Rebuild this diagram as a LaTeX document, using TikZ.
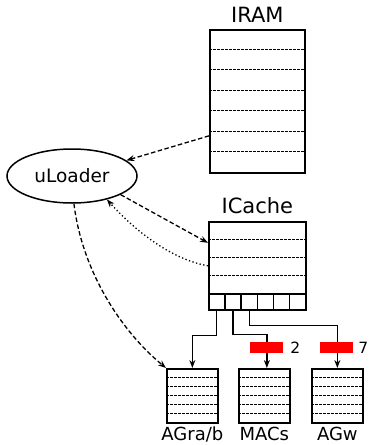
\documentclass[tikz,border=0pt]{standalone}
\usepackage{fontspec}
\setmainfont{DejaVu Sans}
\usetikzlibrary{arrows.meta, positioning, shapes.geometric}

\begin{document}
\begin{tikzpicture}[
    x=1pt, y=-1pt,
    font=\fontsize{18.5}{20}\selectfont,
    memory/.style={draw, line width=1.7pt, inner sep=0pt, anchor=north west},
    slot/.style={line width=1pt, dash pattern=on 2.6pt off 1.4pt},
    port/.style={draw, line width=1.5pt, inner sep=0pt, minimum width=16.17pt,
                 minimum height=16pt, anchor=north west},
    title/.style={font=\fontsize{21}{22}\selectfont, inner sep=0pt},
    caption/.style={font=\fontsize{18}{19}\selectfont, inner sep=0pt},
    flow/.style={line width=1.3pt, -{Stealth[length=8pt, width=6pt]}},
    fetch/.style={flow, dash pattern=on 4.5pt off 2.5pt},
    hint/.style={flow, dash pattern=on 1.3pt off 2.4pt},
    stall/.style={fill=red, inner sep=0pt, minimum width=33pt, minimum height=11pt},
    count/.style={font=\fontsize{15.5}{16}\selectfont, inner sep=0pt},
  ]

  \useasboundingbox (0,0) rectangle (368,445);

  % ---- IRAM -------------------------------------------------------------
  \node[memory, minimum width=95pt, minimum height=143pt] (iram) at (209,29) {};
  \foreach \i in {1,...,6}
    \draw[slot] (iram.north west) ++(0,\i*20.43) -- ++(95,0);
  \node[title, above=6pt of iram] (iram-label) {IRAM};

  % ---- the loader -------------------------------------------------------
  \node[draw, ellipse, line width=1.5pt, inner sep=0pt, minimum width=130pt,
        minimum height=54pt] (loader) at (72,176) {uLoader};

  % ---- ICache with its ports --------------------------------------------
  \node[memory, minimum width=97pt, minimum height=72pt] (icache) at (208,221) {};
  \foreach \i in {1,2,3}
    \draw[slot] (icache.north west) ++(0,\i*18.2) -- ++(97,0);
  \foreach \i in {1,...,6}
    \node[port] (port\i) at ({208+(\i-1)*16.17},293) {};
  \node[title, above=7pt of icache] (icache-label) {ICache};

  % ---- the three small memories -----------------------------------------
  \foreach \name/\x/\txt in {agrab/166/{AGra/b}, macs/238/MACs, agw/311/AGw} {
    \node[memory, minimum width=51pt, minimum height=54pt] (\name) at (\x,368) {};
    \foreach \i in {1,...,5}
      \draw[slot] (\name.north west) ++(0,\i*9) -- ++(51,0);
    \node[caption, below=3pt of \name] (\name-label) {\txt};
  }

  % ---- loader traffic ---------------------------------------------------
  \draw[fetch] ([yshift=-34.5pt]iram.west) -- (loader.16);
  \draw[fetch] (loader.-21) -- ([yshift=15pt]icache.west);
  \draw[hint] ([yshift=-8pt]icache.west) .. controls (175,260) and (140,236) .. (loader.-34);
  \draw[fetch] (loader.-86) .. controls (82,270) and (120,330) .. (agrab.north west);

  % ---- ports to the memories --------------------------------------------
  \draw[flow] (port1.south) -- ++(0,25) -| (agrab.north);
  \draw[flow] (port2.south) -- ++(0,24) -| ([xshift=2.5pt]macs.north);
  \draw[flow] (port3.south) -- ++(0,15) -| (agw.north);

  % ---- latencies --------------------------------------------------------
  \node[stall] (stall-macs) at (266.5,347.5) {};
  \node[count, right=7pt of stall-macs] (lat-macs) {2};
  \node[stall] (stall-agw) at (336.5,347.5) {};
  \node[count, right=5pt of stall-agw] (lat-agw) {7};

\end{tikzpicture}
\end{document}
